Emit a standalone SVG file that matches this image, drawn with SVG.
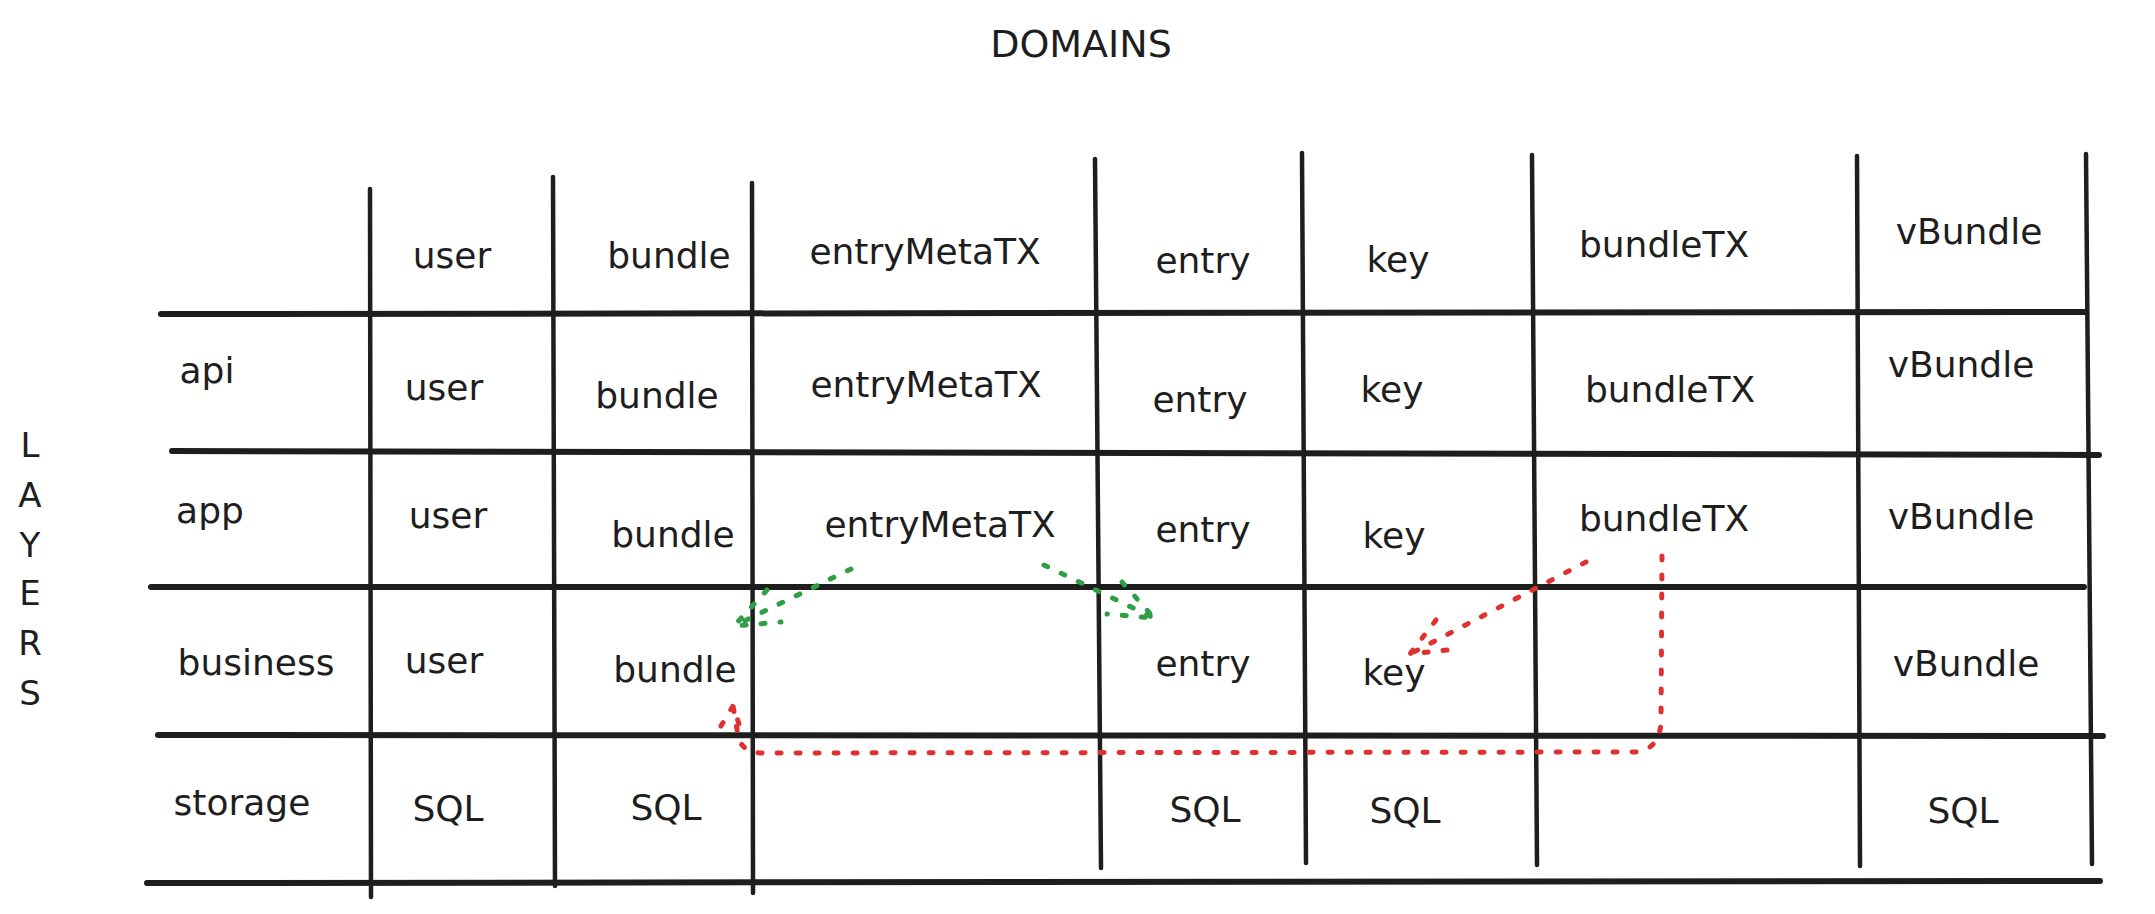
<svg xmlns="http://www.w3.org/2000/svg" width="2155" height="914" viewBox="0 0 2155 914">
<style>
  .bg { fill: #ffffff; }
  .hl { stroke: #1e1e1e; stroke-width: 6; stroke-linecap: round; fill: none; }
  .vl { stroke: #1e1e1e; stroke-width: 4.5; stroke-linecap: round; fill: none; }
  text { font-family: "DejaVu Sans", "Liberation Sans", sans-serif; fill: #1e1e1e; }
  .t { font-size: 36px; text-anchor: middle; }
  .title { font-size: 38px; text-anchor: middle; }
  .side { font-size: 34px; text-anchor: middle; }
  .g { stroke: #2f9e44; stroke-width: 5; stroke-dasharray: 4 15; stroke-linecap: round; fill: none; }
  .r { stroke: #e03131; stroke-width: 5; stroke-dasharray: 4 15; stroke-linecap: round; fill: none; }
</style>
<rect class="bg" x="0" y="0" width="2155" height="914"/>

<g id="grid">
  <line class="hl" x1="161" y1="314" x2="2086" y2="312"/>
  <line class="hl" x1="172" y1="451" x2="2099" y2="455"/>
  <line class="hl" x1="151" y1="587" x2="2084" y2="587"/>
  <line class="hl" x1="158" y1="735" x2="2103" y2="736"/>
  <line class="hl" x1="147" y1="883" x2="2100" y2="881"/>
  <line class="vl" x1="370" y1="189" x2="371" y2="897"/>
  <line class="vl" x1="553" y1="177" x2="555" y2="886"/>
  <line class="vl" x1="752" y1="183" x2="753" y2="893"/>
  <line class="vl" x1="1095" y1="159" x2="1101" y2="868"/>
  <line class="vl" x1="1302" y1="153" x2="1306" y2="863"/>
  <line class="vl" x1="1532" y1="155" x2="1537" y2="865"/>
  <line class="vl" x1="1857" y1="156" x2="1860" y2="866"/>
  <line class="vl" x1="2086" y1="154" x2="2092" y2="864"/>
</g>

<g id="title-domains">
  <text class="title" x="1081" y="57">DOMAINS</text>
</g>

<g id="title-layers">
  <text class="side" x="30" y="457">L</text>
  <text class="side" x="30" y="507">A</text>
  <text class="side" x="30" y="557">Y</text>
  <text class="side" x="30" y="605">E</text>
  <text class="side" x="30" y="655">R</text>
  <text class="side" x="30" y="705">S</text>
</g>

<g id="row-header">
  <g id="h-user"><text class="t" x="452" y="268">user</text></g>
  <g id="h-bundle"><text class="t" x="669" y="268">bundle</text></g>
  <g id="h-entryMetaTX"><text class="t" x="925" y="264">entryMetaTX</text></g>
  <g id="h-entry"><text class="t" x="1203" y="273">entry</text></g>
  <g id="h-key"><text class="t" x="1398" y="272">key</text></g>
  <g id="h-bundleTX"><text class="t" x="1664" y="257">bundleTX</text></g>
  <g id="h-vBundle"><text class="t" x="1969" y="244">vBundle</text></g>
</g>

<g id="row-api">
  <g id="api-label"><text class="t" x="207" y="383">api</text></g>
  <g id="api-user"><text class="t" x="444" y="400">user</text></g>
  <g id="api-bundle"><text class="t" x="657" y="408">bundle</text></g>
  <g id="api-entryMetaTX"><text class="t" x="926" y="397">entryMetaTX</text></g>
  <g id="api-entry"><text class="t" x="1200" y="412">entry</text></g>
  <g id="api-key"><text class="t" x="1392" y="402">key</text></g>
  <g id="api-bundleTX"><text class="t" x="1670" y="402">bundleTX</text></g>
  <g id="api-vBundle"><text class="t" x="1961" y="377">vBundle</text></g>
</g>

<g id="row-app">
  <g id="app-label"><text class="t" x="210" y="523">app</text></g>
  <g id="app-user"><text class="t" x="448" y="528">user</text></g>
  <g id="app-bundle"><text class="t" x="673" y="547">bundle</text></g>
  <g id="app-entryMetaTX"><text class="t" x="940" y="537">entryMetaTX</text></g>
  <g id="app-entry"><text class="t" x="1203" y="542">entry</text></g>
  <g id="app-key"><text class="t" x="1394" y="548">key</text></g>
  <g id="app-bundleTX"><text class="t" x="1664" y="531">bundleTX</text></g>
  <g id="app-vBundle"><text class="t" x="1961" y="529">vBundle</text></g>
</g>

<g id="row-business">
  <g id="business-label"><text class="t" x="256" y="675">business</text></g>
  <g id="business-user"><text class="t" x="444" y="673">user</text></g>
  <g id="business-bundle"><text class="t" x="675" y="682">bundle</text></g>
  <g id="business-entry"><text class="t" x="1203" y="676">entry</text></g>
  <g id="business-key"><text class="t" x="1394" y="685">key</text></g>
  <g id="business-vBundle"><text class="t" x="1966" y="676">vBundle</text></g>
</g>

<g id="row-storage">
  <g id="storage-label"><text class="t" x="242" y="815">storage</text></g>
  <g id="storage-user"><text class="t" x="448" y="821">SQL</text></g>
  <g id="storage-bundle"><text class="t" x="666" y="820">SQL</text></g>
  <g id="storage-entry"><text class="t" x="1205" y="822">SQL</text></g>
  <g id="storage-key"><text class="t" x="1405" y="823">SQL</text></g>
  <g id="storage-vBundle"><text class="t" x="1963" y="823">SQL</text></g>
</g>

<g id="connectors">
  <path class="g" d="M851,569 L734,626"/>
  <path class="g" d="M767,590 L734,626 L781,622"/>
  <path class="g" d="M1044,565 L1154,618"/>
  <path class="g" d="M1122,582 L1154,618 L1107,614"/>
  <path class="r" d="M1586,562 L1410,654"/>
  <path class="r" d="M1436,620 L1410,654 L1457,649"/>
  <path class="r" d="M1662,556 L1661,723 Q1659,748 1638,752 L760,753 Q741,752 738,735 L733,706"/>
  <path class="r" d="M721,726 L733,706 L740,727"/>
</g>
</svg>
